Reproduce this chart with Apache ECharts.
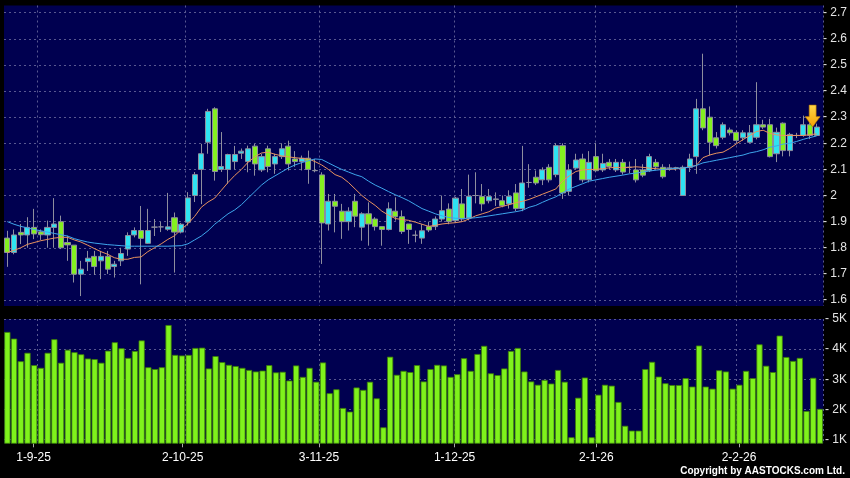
<!DOCTYPE html>
<html><head><meta charset="utf-8">
<script src="https://cdn.jsdelivr.net/npm/echarts@6/dist/echarts.min.js"></script>
<style>html,body{margin:0;padding:0;background:#000;}#c{width:850px;height:478px;}</style>
</head><body><div id="c"></div>
<script>
// trading days (HK), 26 Aug 2025 .. 24 Feb 2026
const monthDays = [
  ['8-25', [26,27,28,29]],
  ['9-25', [1,2,3,4,5,8,9,10,11,12,15,16,17,18,19,22,23,24,25,26,29,30]],
  ['10-25', [2,3,6,8,9,10,13,14,15,16,17,20,21,22,23,24,27,28,30,31]],
  ['11-25', [3,4,5,6,7,10,11,12,13,14,17,18,19,20,21,24,25,26,27,28]],
  ['12-25', [1,2,3,4,5,8,9,10,11,12,15,16,17,18,19,22,23,24,29,30,31]],
  ['1-26', [2,5,6,7,8,9,12,13,14,15,16,19,20,21,22,23,26,27,28,29,30]],
  ['2-26', [2,3,4,5,6,9,10,11,12,13,16,20,23,24]]
];
const dates = [];
monthDays.forEach(([m, ds]) => ds.forEach(d => dates.push(d + '-' + m)));

const opens = [1.837,1.782,1.859,1.849,1.878,1.861,1.849,1.878,1.900,1.820,
1.810,1.699,1.747,1.767,1.750,1.767,1.728,1.750,1.795,1.849,
1.866,1.817,1.879,1.880,1.871,1.915,1.860,1.898,2.000,2.100,
2.204,2.332,2.100,2.100,2.130,2.162,2.130,2.189,2.098,2.179,
2.121,2.149,2.189,2.140,2.130,2.143,2.096,2.079,1.891,1.978,
1.940,1.900,1.978,1.879,1.930,1.910,1.881,1.870,1.940,1.919,
1.891,1.848,1.837,1.881,1.881,1.910,1.948,1.904,1.968,1.914,
2.000,1.996,1.980,1.985,1.980,1.968,2.010,1.950,2.050,2.070,
2.060,2.108,2.080,2.191,2.016,2.105,2.140,2.060,2.149,2.098,
2.127,2.098,2.127,2.108,2.098,2.098,2.095,2.127,2.108,2.105,
2.106,2.000,2.108,2.149,2.332,2.300,2.221,2.223,2.251,2.242,
2.221,2.204,2.223,2.271,2.271,2.160,2.277,2.172,2.230,2.230,
2.271,2.230];
const closes = [1.782,1.849,1.849,1.878,1.853,1.850,1.878,1.891,1.800,1.811,
1.699,1.718,1.760,1.728,1.767,1.718,1.737,1.778,1.847,1.866,
1.836,1.866,1.879,1.880,1.880,1.860,1.890,1.991,2.080,2.160,
2.322,2.092,2.111,2.157,2.157,2.170,2.179,2.121,2.149,2.111,
2.149,2.179,2.121,2.130,2.143,2.100,2.095,1.895,1.978,1.959,
1.900,1.940,1.921,1.930,1.891,1.881,1.870,1.949,1.919,1.862,
1.870,1.848,1.865,1.868,1.910,1.942,1.901,1.990,1.910,1.997,
2.000,1.968,1.996,1.987,1.961,1.997,1.950,2.048,2.050,2.048,
2.098,2.060,2.191,2.010,2.098,2.136,2.060,2.127,2.095,2.123,
2.111,2.127,2.090,2.108,2.060,2.078,2.149,2.110,2.072,2.105,
2.106,2.108,2.140,2.332,2.259,2.204,2.191,2.271,2.240,2.211,
2.240,2.240,2.271,2.262,2.149,2.242,2.172,2.234,2.230,2.271,
2.230,2.262];
const lows = [1.727,1.775,1.814,1.800,1.833,1.830,1.800,1.800,1.795,1.750,
1.667,1.615,1.711,1.696,1.680,1.700,1.686,1.730,1.769,1.840,
1.660,1.815,1.845,1.860,1.865,1.705,1.855,1.885,1.975,1.967,
2.160,2.057,2.090,2.045,2.100,2.140,2.089,2.076,2.090,2.089,
2.083,2.140,2.096,2.110,2.096,2.045,2.089,1.738,1.866,1.859,
1.834,1.866,1.879,1.827,1.808,1.866,1.808,1.866,1.904,1.853,
1.815,1.821,1.815,1.860,1.868,1.900,1.890,1.895,1.900,1.905,
1.970,1.940,1.970,1.960,1.955,1.950,1.940,1.940,2.030,2.040,
2.040,2.050,2.070,1.987,2.000,2.100,2.050,2.050,2.090,2.090,
2.100,2.090,2.080,2.085,2.050,2.070,2.090,2.100,2.065,2.095,
2.095,2.000,2.090,2.083,2.250,2.153,2.180,2.215,2.230,2.200,
2.210,2.200,2.215,2.255,2.146,2.128,2.150,2.150,2.220,2.225,
2.216,2.230];
const highs = [1.865,1.870,1.891,1.917,1.949,1.870,1.904,1.990,1.923,1.846,
1.810,1.750,1.788,1.788,1.788,1.788,1.750,1.800,1.859,1.878,
1.960,1.949,1.910,1.900,2.010,1.935,1.895,2.013,2.090,2.198,
2.332,2.338,2.243,2.160,2.190,2.180,2.191,2.198,2.160,2.191,
2.160,2.200,2.210,2.170,2.153,2.172,2.140,2.089,2.006,2.006,
1.968,1.955,2.006,1.936,1.974,1.917,1.881,1.974,1.993,1.943,
1.891,1.866,1.890,1.900,1.920,2.000,1.970,1.995,2.025,2.080,
2.089,2.044,2.025,2.012,2.000,2.020,2.044,2.190,2.120,2.096,
2.108,2.120,2.200,2.200,2.120,2.160,2.160,2.170,2.200,2.160,
2.140,2.140,2.140,2.130,2.140,2.120,2.160,2.140,2.120,2.120,
2.110,2.115,2.160,2.370,2.543,2.341,2.243,2.280,2.260,2.250,
2.250,2.270,2.434,2.290,2.294,2.260,2.280,2.240,2.240,2.306,
2.290,2.275];
const ma10 = [1.782,1.790,1.800,1.813,1.820,1.827,1.832,1.837,1.840,1.840,
1.830,1.822,1.810,1.797,1.785,1.775,1.762,1.756,1.756,1.763,
1.765,1.785,1.800,1.815,1.832,1.846,1.870,1.892,1.920,1.955,
1.975,1.990,2.020,2.050,2.077,2.100,2.128,2.148,2.163,2.166,
2.158,2.152,2.148,2.145,2.142,2.140,2.130,2.117,2.100,2.080,
2.070,2.050,2.025,2.000,1.980,1.962,1.940,1.925,1.912,1.908,
1.905,1.898,1.890,1.882,1.886,1.891,1.894,1.896,1.900,1.910,
1.922,1.930,1.938,1.952,1.958,1.965,1.972,1.978,1.985,1.995,
2.005,2.015,2.025,2.055,2.075,2.092,2.098,2.100,2.100,2.103,
2.106,2.108,2.106,2.108,2.110,2.108,2.105,2.103,2.100,2.100,
2.102,2.105,2.110,2.115,2.145,2.155,2.162,2.166,2.180,2.198,
2.214,2.230,2.245,2.250,2.238,2.232,2.230,2.230,2.230,2.230,
2.233,2.236];
const ma20 = [1.900,1.890,1.882,1.876,1.870,1.865,1.860,1.855,1.850,1.845,
1.835,1.828,1.822,1.818,1.815,1.812,1.810,1.808,1.806,1.806,
1.806,1.806,1.806,1.806,1.806,1.807,1.808,1.815,1.830,1.845,
1.865,1.890,1.910,1.930,1.945,1.965,1.990,2.015,2.040,2.060,
2.075,2.090,2.105,2.117,2.126,2.133,2.140,2.138,2.125,2.112,
2.100,2.090,2.080,2.072,2.055,2.040,2.028,2.015,2.003,1.992,
1.980,1.965,1.950,1.940,1.930,1.922,1.916,1.913,1.912,1.913,
1.915,1.918,1.922,1.926,1.930,1.934,1.938,1.943,1.955,1.962,
1.974,1.985,1.995,2.010,2.025,2.035,2.045,2.055,2.060,2.065,
2.070,2.074,2.078,2.083,2.086,2.090,2.094,2.097,2.100,2.102,
2.104,2.106,2.108,2.115,2.125,2.130,2.135,2.140,2.145,2.150,
2.155,2.163,2.168,2.175,2.185,2.190,2.197,2.200,2.207,2.215,
2.222,2.228];
// volume in thousands
const volume = [4.57,4.35,3.60,3.88,3.47,3.38,3.88,4.33,3.55,3.98,
3.90,3.83,3.69,3.67,3.55,3.95,4.23,4.03,3.71,3.94,
4.29,3.40,3.34,3.40,4.80,3.81,3.79,3.81,4.04,4.05,
3.36,3.77,3.57,3.48,3.44,3.38,3.31,3.26,3.29,3.47,
3.23,3.25,2.96,3.46,3.08,3.38,2.92,3.56,2.54,2.67,
2.05,1.93,2.73,2.65,2.92,2.37,1.41,3.75,3.15,3.28,
3.24,3.47,2.93,3.34,3.48,3.46,3.08,3.17,3.70,3.28,
3.84,4.11,3.20,3.14,3.36,3.94,4.04,3.26,2.93,2.82,
2.98,2.86,3.31,2.92,1.08,2.39,3.06,1.08,2.49,2.82,
2.79,2.25,1.46,1.30,1.30,3.34,3.58,3.09,2.87,2.81,
2.81,3.04,2.76,4.12,2.76,2.69,3.30,3.26,2.69,2.82,
3.28,3.04,4.16,3.45,3.24,4.45,3.74,3.61,3.71,1.95,
3.05,2.02];
const tickLabels = ['1-9-25','2-10-25','3-11-25','1-12-25','2-1-26','2-2-26'];
const tickPos = [3.9, 26.1, 46.4, 66.6, 87.7, 108.95];
const monthStartIdx = [4, 26, 46, 66, 87, 108];
const priceTicks = [1.6, 2.7, 0.1];
const volTicks = [1, 5, 1];

const ohlc = opens.map((o, i) => [o, closes[i], lows[i], highs[i]]);
const L = 4, R = 26.7;
const gridCol = '#585890';
const txtCol = '#e4e4e4';
const splitFn = (i) => monthStartIdx.includes(i - 1);
const chart = echarts.init(document.getElementById('c'), null, {renderer: 'canvas'});
const hiddenCat = (g) => ({type: 'category', gridIndex: g, data: dates, show: false});
chart.setOption({
  backgroundColor: '#000',
  animation: false,
  graphic: [
    {type: 'rect', z: -10, shape: {x: L, y: 5.5, width: 850 - R - L, height: 300.5}, style: {fill: '#000050'}},
    {type: 'rect', z: -10, shape: {x: L, y: 319, width: 850 - R - L, height: 124.3}, style: {fill: '#000050'}},
    {type: 'text', right: 5, top: 466, style: {text: 'Copyright by AASTOCKS.com Ltd.', fill: '#ffffff', font: 'bold 10px "Liberation Sans", Arial, sans-serif'}}
  ],
  grid: [
    {left: L, right: R, top: 12.7, height: 287.3},
    {left: L, right: R, top: 319, height: 124.3},
    {left: L, right: R, top: 319, height: 120.7},
    {left: L, right: R, top: 5.5, height: 300.5}
  ],
  xAxis: [
    hiddenCat(0),
    {type: 'category', gridIndex: 1, data: dates, axisLine: {show: false}, axisTick: {show: false}, axisLabel: {show: false},
     splitLine: {show: true, interval: splitFn, lineStyle: {color: gridCol, type: [2, 3], width: 1}}},
    hiddenCat(2),
    {type: 'category', gridIndex: 3, data: dates, axisLine: {show: false}, axisTick: {show: false}, axisLabel: {show: false},
     splitLine: {show: true, interval: splitFn, lineStyle: {color: gridCol, type: [2, 3], width: 1}}},
    {type: 'value', gridIndex: 1, min: -0.5, max: 121.5, position: 'bottom',
     axisLine: {show: false}, splitLine: {show: false},
     axisTick: {show: true, customValues: tickPos, length: 4, lineStyle: {color: '#aaaaaa'}},
     axisLabel: {customValues: tickPos, formatter: (v) => tickLabels[tickPos.indexOf(v)] || '', color: '#ffffff', fontSize: 12, fontFamily: 'Liberation Sans', margin: 8}}
  ],
  yAxis: [
    {type: 'value', gridIndex: 0, position: 'right', min: priceTicks[0], max: priceTicks[1], interval: priceTicks[2],
     axisLine: {show: false}, axisTick: {show: false},
     axisLabel: {formatter: (v) => '- ' + (+v.toFixed(1)), color: txtCol, fontSize: 12, fontFamily: 'Liberation Sans', margin: 3},
     splitLine: {lineStyle: {color: gridCol, type: [2, 3]}}},
    {type: 'value', gridIndex: 1, min: 0.88, max: 5, show: false, splitLine: {show: false}},
    {type: 'value', gridIndex: 2, position: 'right', min: volTicks[0], max: volTicks[1], interval: volTicks[2],
     axisLine: {show: false}, axisTick: {show: false},
     axisLabel: {formatter: (v) => '- ' + v + 'K', color: txtCol, fontSize: 12, fontFamily: 'Liberation Sans', margin: 3},
     splitLine: {lineStyle: {color: gridCol, type: [2, 3]}}},
    {type: 'value', gridIndex: 3, show: false, splitLine: {show: false}}
  ],
  series: [
    {type: 'candlestick', xAxisIndex: 0, yAxisIndex: 0, data: ohlc, barWidth: '84%',
     itemStyle: {color: '#2fe3f2', color0: '#84f020', borderColor: '#8e8e9e', borderColor0: '#8e8e9e', borderWidth: 1},
     markPoint: {
       symbol: 'path://M4,0 L11,0 L11,11 L15,11 L7.5,21 L0,11 L4,11 Z',
       symbolSize: [15, 22], symbolOffset: [-4, '-50%'], label: {show: false},
       itemStyle: {color: {type: 'linear', x: 0, y: 0, x2: 0, y2: 1, colorStops: [{offset: 0, color: '#ffd84a'}, {offset: 1, color: '#f5a000'}]}, borderColor: '#b07000', borderWidth: 0.6},
       data: [{coord: [dates[dates.length - 1], closes[closes.length - 1]]}]
     }},
    {type: 'line', xAxisIndex: 0, yAxisIndex: 0, data: ma10, symbol: 'none', lineStyle: {color: '#e8925e', width: 1}, z: 3},
    {type: 'line', xAxisIndex: 0, yAxisIndex: 0, data: ma20, symbol: 'none', lineStyle: {color: '#3ea6ec', width: 1}, z: 3},
    {type: 'bar', xAxisIndex: 1, yAxisIndex: 1, data: volume, barCategoryGap: '8%',
     itemStyle: {color: '#7ff21c', borderColor: '#3c7d08', borderWidth: 0.8}}
  ]
});
</script>
</body></html>
